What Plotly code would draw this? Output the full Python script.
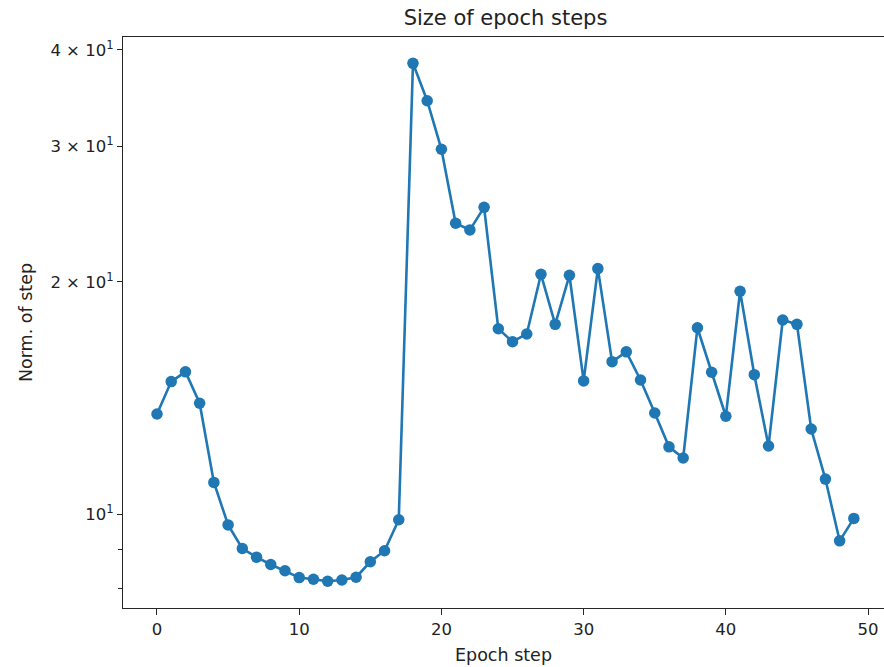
import plotly.graph_objects as go

epoch = list(range(50))
norm_step = [13.48, 14.85, 15.29, 13.92, 10.99, 9.68, 9.02, 8.79, 8.60, 8.44,
             8.27, 8.23, 8.18, 8.21, 8.28, 8.67, 8.96, 9.83, 38.42, 34.36,
             29.72, 23.83, 23.36, 24.99, 17.39, 16.73, 17.12, 20.46, 17.62, 20.40,
             14.88, 20.81, 15.76, 16.23, 14.92, 13.52, 12.22, 11.82, 17.44, 15.27,
             13.39, 19.45, 15.16, 12.25, 17.85, 17.62, 12.89, 11.10, 9.23, 9.87]

x_ticks = [0, 10, 20, 30, 40, 50]
y_ticks = [10, 20, 30, 40]
y_tick_text = ["10<sup>1</sup>", "2 × 10<sup>1</sup>", "3 × 10<sup>1</sup>", "4 × 10<sup>1</sup>"]
y_minor = [8, 9]

font = "DejaVu Sans"
blue = "#1f77b4"

fig = go.Figure(go.Scatter(
    x=epoch, y=norm_step, mode="lines+markers",
    line=dict(color=blue, width=2.6),
    marker=dict(color=blue, size=11.5),
))

fig.update_layout(
    width=884, height=667,
    margin=dict(l=123, r=0, t=37, b=59),
    paper_bgcolor="white", plot_bgcolor="white",
    showlegend=False,
    font=dict(family=font, color="#222222", size=16),
    title=dict(text="Size of epoch steps", x=(505.5) / 884, xanchor="center",
               y=1 - 18 / 667, yanchor="middle", yref="container",
               font=dict(size=21, family=font, color="#222222")),
)

axis_common = dict(
    showline=True, linecolor="#262626", linewidth=1.3, mirror=True,
    showgrid=False, zeroline=False,
    ticks="outside", tickcolor="#262626", tickwidth=1.3,
    tickfont=dict(size=16.5, family=font, color="#222222"),
)

fig.update_xaxes(
    range=[-2.39, 51.12], tickmode="array", tickvals=x_ticks,
    ticklen=6, title=dict(text="Epoch step", standoff=10,
                          font=dict(size=17.5, family=font, color="#222222")),
    **axis_common,
)
fig.update_yaxes(
    type="log", range=[0.87808, 1.61868], tickmode="array",
    tickvals=y_ticks, ticktext=y_tick_text, ticklen=5,
    minor=dict(tickvals=y_minor, ticks="outside", ticklen=4, tickcolor="#262626", tickwidth=1.3),
    title=dict(text="Norm. of step", standoff=13,
               font=dict(size=17.5, family=font, color="#222222")),
    **axis_common,
)

fig.write_html("out.html")
